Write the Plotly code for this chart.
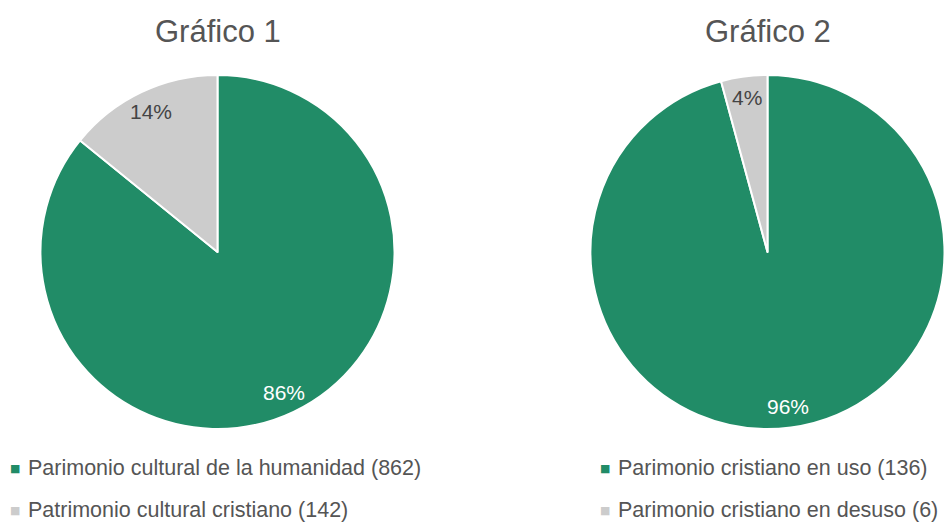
import math
import plotly.graph_objects as go

# Chart 1: cultural heritage of humanity vs. Christian cultural heritage
labels_1 = ["Parimonio cultural de la humanidad", "Patrimonio cultural cristiano"]
values_1 = [862, 142]

# Chart 2: Christian heritage in use vs. disused
labels_2 = ["Parimonio cristiano en uso", "Parimonio cristiano en desuso"]
values_2 = [136, 6]

titles = ["Gráfico 1", "Gráfico 2"]

GREEN = "#218C67"
GREY = "#CCCCCC"
TEXT = "#555555"
FONT = "Liberation Sans, Arial, sans-serif"
W, H = 948, 522

# pie geometry in pixels: centre x, centre y, radius
pies = [(217.5, 252, 177), (767.5, 252, 177)]

# key rows under each pie: swatch x, text x, row y (pixels)
key_x = [(15, 26), (605, 616)]
key_rows = [468, 510]


def domain_for(cx, cy, r):
    hw = min(r, cx, W - cx)
    return dict(x=[(cx - hw) / W, (cx + hw) / W],
                y=[1 - (cy + r) / H, 1 - (cy - r) / H])


fig = go.Figure()

for vals, (cx, cy, r) in zip([values_1, values_2], pies):
    fig.add_trace(go.Pie(
        values=vals,
        labels=[f"s{i}" for i in range(len(vals))],
        sort=False,
        direction="clockwise",
        rotation=0,
        domain=domain_for(cx, cy, r),
        marker=dict(colors=[GREEN, GREY], line=dict(color="white", width=2)),
        textinfo="none",
        showlegend=False,
        hoverinfo="label+value+percent",
    ))

    # percentage labels along each slice's mid-angle
    total = sum(vals)
    start = 0.0
    for v, col in zip(vals, ["white", "#444444"]):
        frac = v / total
        mid = (start + frac / 2) * 2 * math.pi
        start += frac
        lx = cx + 0.88 * r * math.sin(mid)
        ly = cy - 0.88 * r * math.cos(mid)
        fig.add_annotation(
            text=f"{frac:.0%}", x=lx / W, y=1 - ly / H,
            xref="paper", yref="paper", xanchor="center", yanchor="middle",
            showarrow=False, font=dict(family=FONT, size=21, color=col),
        )

# key under each pie: coloured swatch + label with count
for labs, vals, (sx, tx) in zip([labels_1, labels_2], [values_1, values_2], key_x):
    for lab, v, col, ry in zip(labs, vals, [GREEN, GREY], key_rows):
        fig.add_annotation(
            text="■", x=sx / W, y=1 - ry / H,
            xref="paper", yref="paper", xanchor="center", yanchor="middle",
            showarrow=False, font=dict(family="DejaVu Sans", size=11, color=col),
        )
        fig.add_annotation(
            text=f"{lab} ({v})", x=tx / W, y=1 - ry / H,
            xref="paper", yref="paper", xanchor="left", yanchor="middle",
            showarrow=False, font=dict(family=FONT, size=21.5, color=TEXT),
        )

for t, (cx, cy, r) in zip(titles, pies):
    fig.add_annotation(
        text=t, x=cx / W, y=1 - 32 / H,
        xref="paper", yref="paper", xanchor="center", yanchor="middle",
        showarrow=False, font=dict(family=FONT, size=31, color=TEXT),
    )

fig.update_layout(
    width=W, height=H,
    margin=dict(l=0, r=0, t=0, b=0),
    paper_bgcolor="white", plot_bgcolor="white",
    showlegend=False,
)

fig.write_html("out.html")
